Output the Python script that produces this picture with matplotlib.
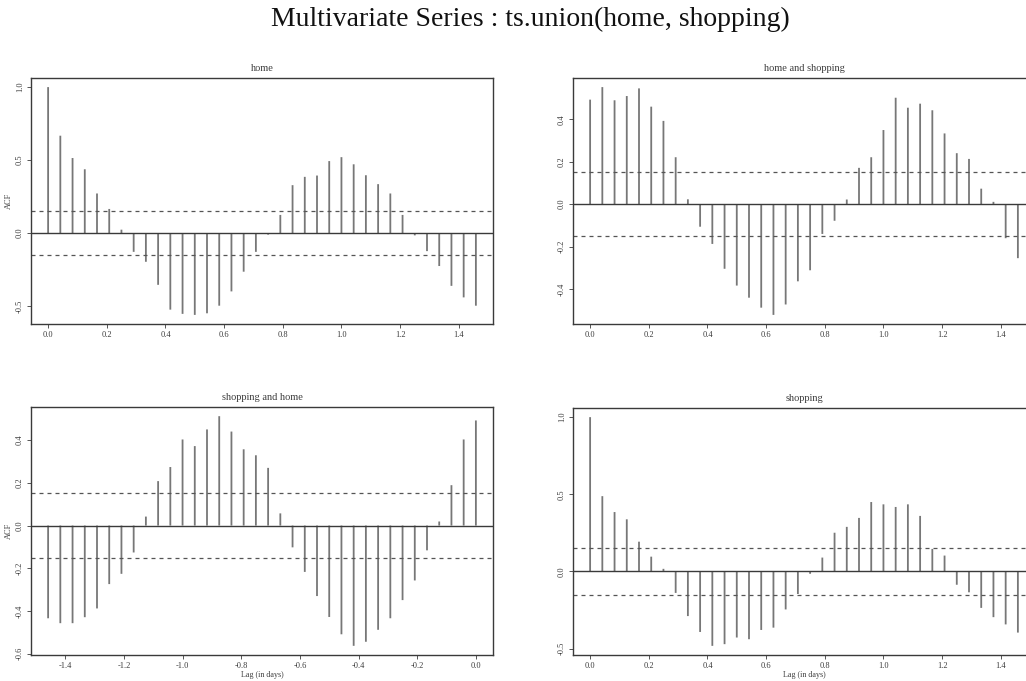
import numpy as np
import matplotlib
matplotlib.use("Agg")
import matplotlib.pyplot as plt

# Hourly series (frequency 24), lags 0..35 hours expressed in days
freq = 24
lag_steps = np.arange(36)

acf_home = [1.000, 0.667, 0.514, 0.437, 0.271, 0.165, 0.023, -0.129, -0.197,
            -0.355, -0.525, -0.554, -0.561, -0.550, -0.498, -0.400, -0.265,
            -0.129, -0.011, 0.124, 0.328, 0.385, 0.394, 0.493, 0.520, 0.471,
            0.396, 0.335, 0.271, 0.124, -0.016, -0.124, -0.226, -0.362,
            -0.441, -0.498]

ccf_home_shopping = [0.492, 0.551, 0.489, 0.509, 0.545, 0.459, 0.392, 0.221,
                     0.023, -0.106, -0.187, -0.304, -0.383, -0.440, -0.487,
                     -0.521, -0.472, -0.363, -0.311, -0.140, -0.078, 0.022,
                     0.171, 0.221, 0.349, 0.501, 0.454, 0.473, 0.442, 0.333,
                     0.240, 0.213, 0.073, 0.011, -0.160, -0.254]

# shopping vs home, ordered from lag -35 up to lag 0
ccf_shopping_home = [-0.434, -0.457, -0.457, -0.429, -0.388, -0.274, -0.226,
                     -0.126, 0.042, 0.208, 0.274, 0.403, 0.372, 0.450, 0.512,
                     0.440, 0.357, 0.329, 0.270, 0.057, -0.102, -0.217, -0.330,
                     -0.428, -0.509, -0.563, -0.544, -0.488, -0.434, -0.349,
                     -0.257, -0.116, 0.019, 0.189, 0.403, 0.492]

acf_shopping = [1.000, 0.488, 0.385, 0.338, 0.193, 0.096, 0.017, -0.139,
                -0.289, -0.392, -0.482, -0.471, -0.428, -0.439, -0.379, -0.364,
                -0.246, -0.146, -0.015, 0.090, 0.251, 0.289, 0.347, 0.450,
                0.435, 0.418, 0.435, 0.360, 0.146, 0.103, -0.086, -0.135,
                -0.236, -0.296, -0.343, -0.396]

ci = 0.151

titles = ["home", "home and shopping", "shopping and home", "shopping"]
y_ticks = [[-0.5, 0.0, 0.5, 1.0],
           [-0.4, -0.2, 0.0, 0.2, 0.4],
           [-0.6, -0.4, -0.2, 0.0, 0.2, 0.4],
           [-0.5, 0.0, 0.5, 1.0]]
x_ticks_pos = [0.0, 0.2, 0.4, 0.6, 0.8, 1.0, 1.2, 1.4]
x_ticks_neg = [-1.4, -1.2, -1.0, -0.8, -0.6, -0.4, -0.2, 0.0]

serif = ["Liberation Serif", "DejaVu Serif"]
plt.rcParams["font.family"] = serif

fig = plt.figure(figsize=(10.26, 6.81), dpi=100)
W, H = 1026, 681

def make_axes(left, top, right, bottom):
    return fig.add_axes([left / W, 1 - bottom / H, (right - left) / W, (bottom - top) / H])

boxes = [(31, 78, 493, 324), (573, 78, 1035, 324),
         (31, 407, 493, 655), (573, 408, 1035, 655)]

lags_pos = lag_steps / freq
lags_neg = (lag_steps - lag_steps[-1]) / freq
panels = [(lags_pos, acf_home), (lags_pos, ccf_home_shopping),
          (lags_neg, ccf_shopping_home), (lags_pos, acf_shopping)]

edge = "#3a3a3a"
txt = "#3c3c3c"
for k, ((x, y), box) in enumerate(zip(panels, boxes)):
    ax = make_axes(*box)
    y = np.asarray(y)
    ax.vlines(x, 0, y, colors="#777777", linewidth=1.3, snap=False)
    ax.axhline(0, color=edge, linewidth=1.0)
    for c in (ci, -ci):
        ax.axhline(c, color="#555555", linewidth=0.9, linestyle=(0, (3.2, 3.2)))
    lo, hi = min(y.min(), -ci), max(y.max(), ci)
    pad = 0.04 * (hi - lo)
    ax.set_ylim(lo - pad, hi + pad)
    xl, xh = x.min(), x.max()
    xp = 0.04 * (xh - xl)
    ax.set_xlim(xl - xp, xh + xp)
    xt = x_ticks_neg if k == 2 else x_ticks_pos
    ax.set_xticks(xt)
    ax.set_xticklabels([f"{t:.1f}" for t in xt])
    ax.set_yticks(y_ticks[k])
    ax.set_yticklabels([f"{t:.1f}" for t in y_ticks[k]], rotation=90, va="center")
    ax.tick_params(labelsize=6, length=3, width=0.7, colors="#555555",
                   labelcolor=txt, pad=2)
    for s in ax.spines.values():
        s.set_color(edge)
        s.set_linewidth(1.0)
    ax.set_title(titles[k], fontsize=7.5, pad=5, color=txt)
    if k in (0, 2):
        ax.set_ylabel("ACF", fontsize=6, labelpad=2, color=txt)
    if k in (2, 3):
        ax.set_xlabel("Lag (in days)", fontsize=5.8, labelpad=0.5, color=txt)

fig.text(0.517, 1 - 19 / H, "Multivariate Series : ts.union(home, shopping)",
         ha="center", va="center", fontsize=20, color="#111111")

fig.savefig("out.png", dpi=100, facecolor="white")
